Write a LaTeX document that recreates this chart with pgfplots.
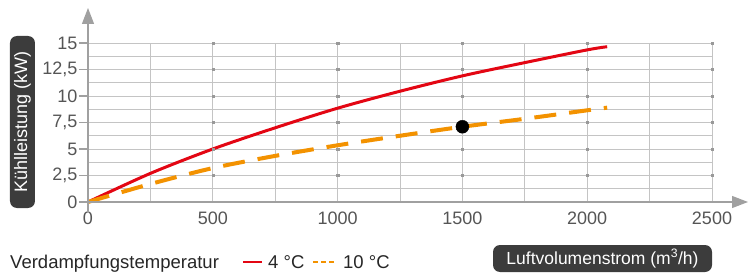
\documentclass[border=0pt]{standalone}
\usepackage{pgfplots}
\pgfplotsset{compat=1.18}
\usepackage{fontspec}
\setmainfont{Liberation Sans}
\usetikzlibrary{arrows.meta}
\definecolor{gridc}{HTML}{C4C4C4}
\definecolor{axc}{HTML}{A0A0A0}
\definecolor{dotc}{HTML}{999999}
\definecolor{tickc}{HTML}{555555}
\definecolor{boxc}{HTML}{3C3C3C}
\definecolor{redc}{HTML}{E30613}
\definecolor{orac}{HTML}{F39200}
\begin{document}
\begin{tikzpicture}
\useasboundingbox (-88bp,-72bp) rectangle (661bp,202bp);
\begin{axis}[
  anchor=origin, at={(0,0)},
  scale only axis, width=624bp, height=159bp,
  xmin=0, xmax=2500, ymin=0, ymax=15,
  axis line style={draw=none},
  xtick={0,500,...,2500}, minor xtick={250,750,...,2250},
  ytick={0,2.5,...,15}, minor ytick={1.25,3.75,...,13.75},
  grid=both,
  major grid style={gridc, line width=0.9bp},
  minor grid style={gridc, line width=0.9bp},
  major tick length=0pt, minor tick length=0pt,
  /pgf/number format/assume math mode=true,
  /pgf/number format/use comma,
  /pgf/number format/1000 sep={},
  ticklabel style={font=\fontsize{18bp}{20bp}\selectfont, text=tickc},
  yticklabel style={xshift=-7bp},
  xticklabel style={yshift=-6bp},
  clip=false,
]
\addplot[only marks, mark=square*, mark size=1.1bp, dotc] coordinates {
(500,2.5) (500,5) (500,7.5) (500,10) (500,12.5) (500,15)
(1000,2.5) (1000,5) (1000,7.5) (1000,10) (1000,12.5) (1000,15)
(1500,2.5) (1500,5) (1500,10) (1500,12.5) (1500,15)
(2000,2.5) (2000,5) (2000,7.5) (2000,10) (2000,12.5) (2000,15)
(2500,2.5) (2500,5) (2500,7.5) (2500,10) (2500,12.5) (2500,15)};
\addplot[redc, line width=3bp, smooth] coordinates {
(0,0) (250,2.7) (500,5.0) (750,7.0) (1000,8.85) (1250,10.45) (1500,11.9) (1750,13.15) (2000,14.35) (2080,14.65)};
\addplot[orac, line width=4bp, dash pattern=on 22bp off 13bp, smooth] coordinates {
(0,0) (250,1.7) (500,3.2) (750,4.35) (1000,5.35) (1250,6.25) (1500,7.1) (1750,7.85) (2000,8.65) (2080,8.9)};
\addplot[only marks, mark=*, mark size=6.5bp, black] coordinates {(1500,7.1)};
\end{axis}
% axes with arrows
\draw[axc, line width=1.2bp, -{Triangle[length=16bp,width=12bp]}] (0,-11bp) -- (0,194bp);
\draw[axc, line width=1.2bp, -{Triangle[length=16bp,width=12bp]}] (0,0) -- (660bp,0);
\foreach \y in {0,26.5,...,159} \draw[axc, line width=1.2bp] (-9bp,\y bp) -- (0,\y bp);
% y label box
\node[fill=boxc, rounded corners=7bp, rotate=90, text=white, minimum width=172bp, minimum height=25bp, inner sep=0pt, font=\fontsize{18bp}{20bp}\selectfont] at (-65.5bp,80bp) {Kühlleistung (kW)};
% x label box
\node[fill=boxc, rounded corners=7bp, text=white, minimum width=219bp, minimum height=27bp, inner sep=0pt, font=\fontsize{17.5bp}{20bp}\selectfont] at (514.5bp,-56.5bp) {Luftvolumenstrom (m\textsuperscript{3}/h)};
% legend
\node[anchor=base west, inner sep=0pt, font=\fontsize{18.5bp}{20bp}\selectfont, text=black!85] at (-78bp,-66.5bp) {Verdampfungstemperatur};
\draw[redc, line width=1.5bp] (155bp,-60bp) -- (174bp,-60bp);
\node[anchor=base west, inner sep=0pt, font=\fontsize{18.5bp}{20bp}\selectfont, text=black!85] at (180bp,-66.5bp) {4 °C};
\draw[orac, line width=1.5bp, dash pattern=on 5bp off 3bp] (225bp,-60bp) -- (247bp,-60bp);
\node[anchor=base west, inner sep=0pt, font=\fontsize{18.5bp}{20bp}\selectfont, text=black!85] at (255bp,-66.5bp) {10 °C};
\end{tikzpicture}
\end{document}
